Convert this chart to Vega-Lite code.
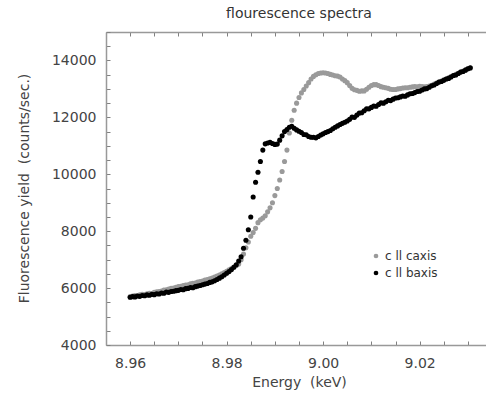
{
  "$schema": "https://vega.github.io/schema/vega-lite/v6.json",
  "autosize": {"type": "none"},
  "padding": {"left": 106, "top": 32, "right": 0, "bottom": 49},
  "width": 386,
  "height": 313,
  "title": {"text": "flourescence spectra", "fontSize": 14, "fontWeight": "normal", "color": "#333", "font": "DejaVu Sans", "offset": 4},
  "datasets": {
    "caxis": [
      {"e":8.9600,"y":5700},{"e":8.9605,"y":5720},{"e":8.9610,"y":5740},{"e":8.9615,"y":5730},{"e":8.9620,"y":5760},{"e":8.9625,"y":5780},{"e":8.9630,"y":5770},{"e":8.9635,"y":5800},{"e":8.9640,"y":5820},{"e":8.9645,"y":5810},
      {"e":8.9650,"y":5850},{"e":8.9655,"y":5870},{"e":8.9660,"y":5880},{"e":8.9665,"y":5900},{"e":8.9670,"y":5930},{"e":8.9675,"y":5940},{"e":8.9680,"y":5970},{"e":8.9685,"y":5990},{"e":8.9690,"y":6000},{"e":8.9695,"y":6030},
      {"e":8.9700,"y":6050},{"e":8.9705,"y":6060},{"e":8.9710,"y":6090},{"e":8.9715,"y":6110},{"e":8.9720,"y":6120},{"e":8.9725,"y":6150},{"e":8.9730,"y":6170},{"e":8.9735,"y":6180},{"e":8.9740,"y":6210},{"e":8.9745,"y":6230},
      {"e":8.9750,"y":6250},{"e":8.9755,"y":6280},{"e":8.9760,"y":6300},{"e":8.9765,"y":6330},{"e":8.9770,"y":6350},{"e":8.9775,"y":6390},{"e":8.9780,"y":6420},{"e":8.9785,"y":6460},{"e":8.9790,"y":6500},{"e":8.9795,"y":6550},
      {"e":8.9800,"y":6590},{"e":8.9805,"y":6640},{"e":8.9810,"y":6690},{"e":8.9815,"y":6740},{"e":8.9820,"y":6790},{"e":8.9825,"y":6850},{"e":8.9830,"y":7000},{"e":8.9835,"y":7200},{"e":8.9840,"y":7420},{"e":8.9845,"y":7620},
      {"e":8.9850,"y":7820},{"e":8.9855,"y":7950},{"e":8.9860,"y":8100},{"e":8.9865,"y":8300},{"e":8.9870,"y":8400},{"e":8.9875,"y":8460},{"e":8.9880,"y":8540},{"e":8.9885,"y":8680},{"e":8.9890,"y":8820},{"e":8.9895,"y":9000},
      {"e":8.9900,"y":9250},{"e":8.9905,"y":9500},{"e":8.9910,"y":9800},{"e":8.9915,"y":10100},{"e":8.9920,"y":10450},{"e":8.9925,"y":10850},{"e":8.9930,"y":11450},{"e":8.9935,"y":11900},{"e":8.9940,"y":12250},{"e":8.9945,"y":12500},
      {"e":8.9950,"y":12700},{"e":8.9955,"y":12860},{"e":8.9960,"y":12980},{"e":8.9965,"y":13100},{"e":8.9970,"y":13220},{"e":8.9975,"y":13350},{"e":8.9980,"y":13440},{"e":8.9985,"y":13500},{"e":8.9990,"y":13540},{"e":8.9995,"y":13560},
      {"e":9.0000,"y":13570},{"e":9.0005,"y":13560},{"e":9.0010,"y":13540},{"e":9.0015,"y":13510},{"e":9.0020,"y":13490},{"e":9.0025,"y":13460},{"e":9.0030,"y":13450},{"e":9.0035,"y":13420},{"e":9.0040,"y":13350},{"e":9.0045,"y":13290},
      {"e":9.0050,"y":13220},{"e":9.0055,"y":13120},{"e":9.0060,"y":13020},{"e":9.0065,"y":12970},{"e":9.0070,"y":12950},{"e":9.0075,"y":12920},{"e":9.0080,"y":12930},{"e":9.0085,"y":12930},{"e":9.0090,"y":12990},{"e":9.0095,"y":13060},
      {"e":9.0100,"y":13120},{"e":9.0105,"y":13150},{"e":9.0110,"y":13150},{"e":9.0115,"y":13120},{"e":9.0120,"y":13080},{"e":9.0125,"y":13060},{"e":9.0130,"y":13040},{"e":9.0135,"y":13020},{"e":9.0140,"y":12990},{"e":9.0145,"y":12980},
      {"e":9.0150,"y":12980},{"e":9.0155,"y":13000},{"e":9.0160,"y":13010},{"e":9.0165,"y":13030},{"e":9.0170,"y":13040},{"e":9.0175,"y":13040},{"e":9.0180,"y":13060},{"e":9.0185,"y":13070},{"e":9.0190,"y":13080},{"e":9.0195,"y":13070},
      {"e":9.0200,"y":13090},{"e":9.0205,"y":13080},{"e":9.0210,"y":13070},{"e":9.0215,"y":13080},{"e":9.0220,"y":13100},{"e":9.0225,"y":13130},{"e":9.0230,"y":13170},{"e":9.0235,"y":13210},{"e":9.0240,"y":13240},{"e":9.0245,"y":13280},
      {"e":9.0250,"y":13320},{"e":9.0255,"y":13350},{"e":9.0260,"y":13390},{"e":9.0265,"y":13430},{"e":9.0270,"y":13470},{"e":9.0275,"y":13510},{"e":9.0280,"y":13550},{"e":9.0285,"y":13590},{"e":9.0290,"y":13630},{"e":9.0295,"y":13670},
      {"e":9.0300,"y":13710},{"e":9.0305,"y":13730}
    ],
    "baxis": [
      {"e":8.9600,"y":5680},{"e":8.9605,"y":5700},{"e":8.9610,"y":5690},{"e":8.9615,"y":5720},{"e":8.9620,"y":5710},{"e":8.9625,"y":5740},{"e":8.9630,"y":5730},{"e":8.9635,"y":5760},{"e":8.9640,"y":5750},{"e":8.9645,"y":5780},
      {"e":8.9650,"y":5770},{"e":8.9655,"y":5800},{"e":8.9660,"y":5790},{"e":8.9665,"y":5830},{"e":8.9670,"y":5820},{"e":8.9675,"y":5860},{"e":8.9680,"y":5850},{"e":8.9685,"y":5880},{"e":8.9690,"y":5890},{"e":8.9695,"y":5910},
      {"e":8.9700,"y":5920},{"e":8.9705,"y":5950},{"e":8.9710,"y":5940},{"e":8.9715,"y":5980},{"e":8.9720,"y":5990},{"e":8.9725,"y":6020},{"e":8.9730,"y":6010},{"e":8.9735,"y":6050},{"e":8.9740,"y":6070},{"e":8.9745,"y":6090},
      {"e":8.9750,"y":6120},{"e":8.9755,"y":6140},{"e":8.9760,"y":6160},{"e":8.9765,"y":6200},{"e":8.9770,"y":6220},{"e":8.9775,"y":6260},{"e":8.9780,"y":6300},{"e":8.9785,"y":6350},{"e":8.9790,"y":6400},{"e":8.9795,"y":6460},
      {"e":8.9800,"y":6520},{"e":8.9805,"y":6580},{"e":8.9810,"y":6650},{"e":8.9815,"y":6730},{"e":8.9820,"y":6820},{"e":8.9825,"y":6950},{"e":8.9830,"y":7100},{"e":8.9835,"y":7400},{"e":8.9840,"y":7680},{"e":8.9845,"y":8050},
      {"e":8.9850,"y":8500},{"e":8.9855,"y":9200},{"e":8.9860,"y":9720},{"e":8.9865,"y":10070},{"e":8.9870,"y":10450},{"e":8.9875,"y":10850},{"e":8.9880,"y":11070},{"e":8.9885,"y":11100},{"e":8.9890,"y":11120},{"e":8.9895,"y":11080},
      {"e":8.9900,"y":11050},{"e":8.9905,"y":11060},{"e":8.9910,"y":11200},{"e":8.9915,"y":11350},{"e":8.9920,"y":11500},{"e":8.9925,"y":11570},{"e":8.9930,"y":11650},{"e":8.9935,"y":11690},{"e":8.9940,"y":11620},{"e":8.9945,"y":11560},
      {"e":8.9950,"y":11510},{"e":8.9955,"y":11470},{"e":8.9960,"y":11400},{"e":8.9965,"y":11390},{"e":8.9970,"y":11330},{"e":8.9975,"y":11300},{"e":8.9980,"y":11300},{"e":8.9985,"y":11280},{"e":8.9990,"y":11330},{"e":8.9995,"y":11380},
      {"e":9.0000,"y":11420},{"e":9.0005,"y":11470},{"e":9.0010,"y":11500},{"e":9.0015,"y":11540},{"e":9.0020,"y":11600},{"e":9.0025,"y":11650},{"e":9.0030,"y":11700},{"e":9.0035,"y":11750},{"e":9.0040,"y":11790},{"e":9.0045,"y":11830},
      {"e":9.0050,"y":11870},{"e":9.0055,"y":11930},{"e":9.0060,"y":12010},{"e":9.0065,"y":12000},{"e":9.0070,"y":12080},{"e":9.0075,"y":12150},{"e":9.0080,"y":12160},{"e":9.0085,"y":12230},{"e":9.0090,"y":12300},{"e":9.0095,"y":12300},
      {"e":9.0100,"y":12350},{"e":9.0105,"y":12400},{"e":9.0110,"y":12390},{"e":9.0115,"y":12450},{"e":9.0120,"y":12510},{"e":9.0125,"y":12500},{"e":9.0130,"y":12550},{"e":9.0135,"y":12600},{"e":9.0140,"y":12590},{"e":9.0145,"y":12640},
      {"e":9.0150,"y":12680},{"e":9.0155,"y":12690},{"e":9.0160,"y":12720},{"e":9.0165,"y":12750},{"e":9.0170,"y":12740},{"e":9.0175,"y":12790},{"e":9.0180,"y":12830},{"e":9.0185,"y":12840},{"e":9.0190,"y":12870},{"e":9.0195,"y":12910},
      {"e":9.0200,"y":12920},{"e":9.0205,"y":12960},{"e":9.0210,"y":13000},{"e":9.0215,"y":13010},{"e":9.0220,"y":13060},{"e":9.0225,"y":13110},{"e":9.0230,"y":13140},{"e":9.0235,"y":13190},{"e":9.0240,"y":13240},{"e":9.0245,"y":13260},
      {"e":9.0250,"y":13300},{"e":9.0255,"y":13350},{"e":9.0260,"y":13370},{"e":9.0265,"y":13420},{"e":9.0270,"y":13470},{"e":9.0275,"y":13490},{"e":9.0280,"y":13540},{"e":9.0285,"y":13590},{"e":9.0290,"y":13610},{"e":9.0295,"y":13660},
      {"e":9.0300,"y":13710},{"e":9.0305,"y":13740}
    ]
  },
  "layer": [
    {
      "data": {"name": "caxis"},
      "mark": {"type": "point", "filled": true, "opacity": 1, "size": 26, "shape": "circle"},
      "encoding": {
        "x": {"field": "e", "type": "quantitative", "scale": {"domain": [8.955, 9.035], "nice": false, "zero": false},
          "axis": {"orient": "bottom", "title": "Energy\u00a0\u00a0(keV)", "values": [8.955,8.96,8.965,8.97,8.975,8.98,8.985,8.99,8.995,9.0,9.005,9.01,9.015,9.02,9.025,9.03,9.035],
            "labelExpr": "abs(datum.value*50 - round(datum.value*50)) < 0.01 ? format(datum.value, '.2f') : ''",
            "tickSize": -4,
            "labelPadding": 15, "titleY": 37, "titleBaseline": "middle", "labelFlush": false, "labelOverlap": false}},
        "y": {"field": "y", "type": "quantitative", "scale": {"domain": [4000, 15000], "nice": false, "zero": false},
          "axis": {"title": "Fluorescence yield\u00a0\u00a0(counts/sec.)", "values": [4000,4500,5000,5500,6000,6500,7000,7500,8000,8500,9000,9500,10000,10500,11000,11500,12000,12500,13000,13500,14000,14500,15000],
            "labelExpr": "datum.value % 2000 == 0 && datum.value < 15000 ? format(datum.value, 'd') : ''",
            "tickSize": -4,
            "labelPadding": 14, "titleX": -82, "titleY": 156, "titleAlign": "center", "titleBaseline": "middle", "titleAngle": -90, "labelFlush": false, "labelOverlap": false}},
        "color": {"datum": "c ll caxis", "type": "nominal", "scale": {"domain": ["c ll caxis", "c ll baxis"], "range": ["#9a9a9a", "#000000"]}, "legend": {"title": null}}
      }
    },
    {
      "data": {"name": "baxis"},
      "mark": {"type": "point", "filled": true, "opacity": 1, "size": 26, "shape": "circle"},
      "encoding": {
        "x": {"field": "e", "type": "quantitative", "scale": {"domain": [8.955, 9.035], "nice": false, "zero": false},
          "axis": {"orient": "top", "title": null, "labels": false, "values": [8.955,8.96,8.965,8.97,8.975,8.98,8.985,8.99,8.995,9.0,9.005,9.01,9.015,9.02,9.025,9.03,9.035],
            "tickSize": -4}},
        "y": {"field": "y", "type": "quantitative", "axis": null},
        "color": {"datum": "c ll baxis", "type": "nominal", "legend": {"title": null}}
      }
    }
  ],
  "resolve": {"axis": {"x": "independent", "y": "independent"}},
  "config": {
    "view": {"stroke": null},
    "font": "DejaVu Sans",
    "axis": {"domainColor": "#999999", "domainWidth": 1.5, "tickColor": "#808080", "tickWidth": 1, "labelColor": "#444444", "titleColor": "#444444", "labelFont": "DejaVu Sans", "titleFont": "DejaVu Sans", "labelFontSize": 14, "titleFontSize": 14, "titleFontWeight": "normal", "grid": false},
    "legend": {"orient": "none", "legendX": 264, "legendY": 218, "symbolType": "circle", "symbolSize": 22, "labelFont": "DejaVu Sans", "labelFontSize": 12, "labelColor": "#333333", "padding": 0, "rowPadding": 5, "labelOffset": 3}
  }
}
